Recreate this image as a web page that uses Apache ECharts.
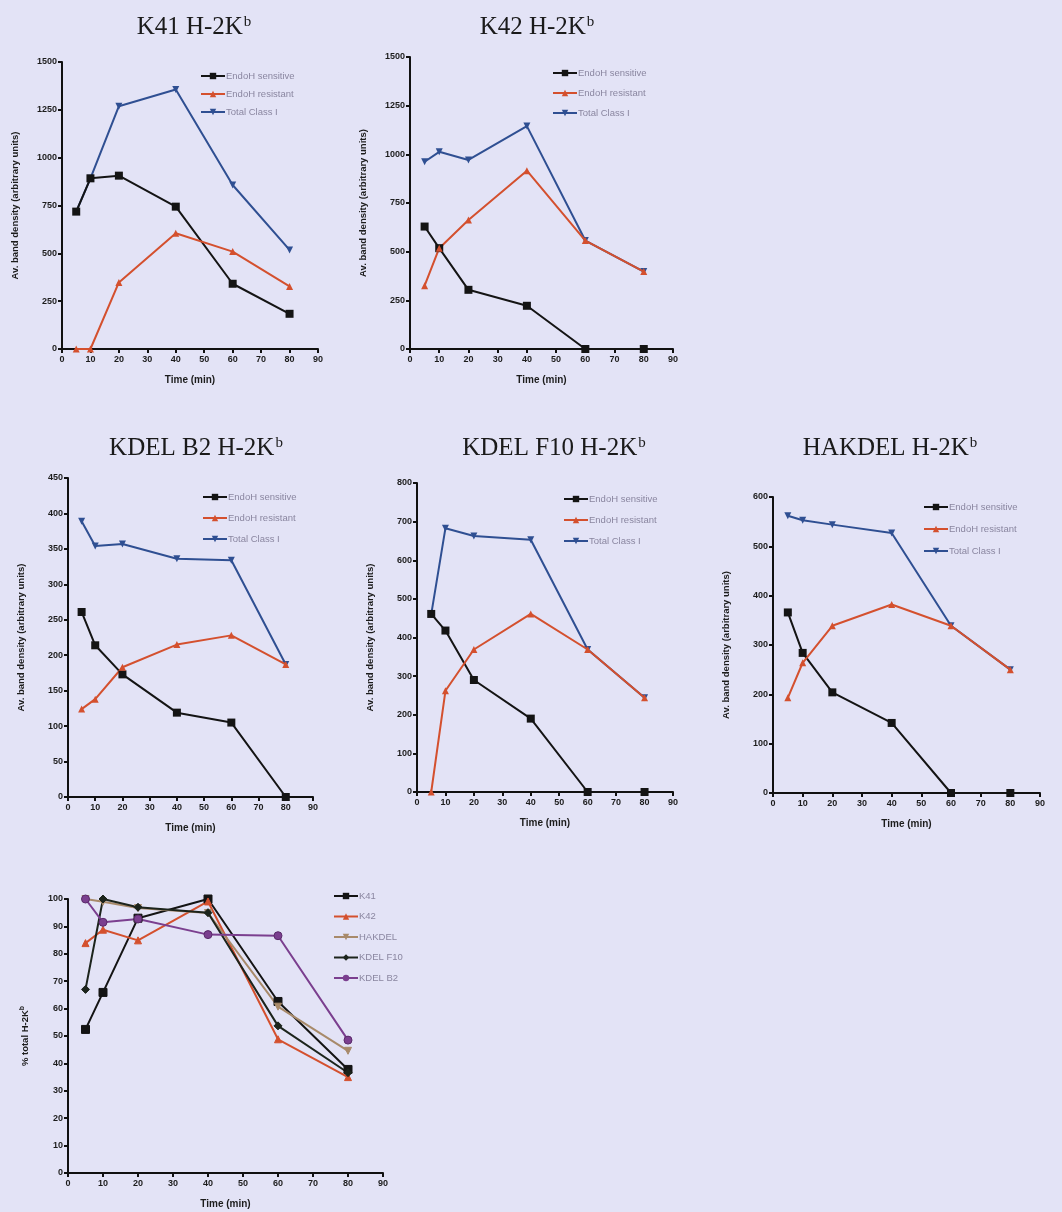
<!DOCTYPE html>
<html>
<head>
<meta charset="utf-8">
<script src="https://cdn.jsdelivr.net/npm/echarts@6/dist/echarts.min.js"></script>
<style>
  html, body { margin: 0; padding: 0; background: #e3e3f6; }
  #main { width: 1062px; height: 1212px; }
</style>
</head>
<body>
<div id="main"></div>
<script>
// time points (min), shared by every panel
var time = [5, 10, 20, 40, 60, 80];

// K41 H-2Kb
var k41Sensitive = [718, 892, 906, 744, 341, 184];
var k41Resistant = [0, 0, 348, 605, 509, 327];
var k41Total = [718, 892, 1269, 1356, 857, 518];

// K42 H-2Kb
var k42Sensitive = [629, 518, 304, 222, 0, 0];
var k42Resistant = [325, 518, 663, 916, 557, 398];
var k42Total = [962, 1013, 971, 1145, 557, 398];

// KDEL B2 H-2Kb
var b2Sensitive = [261, 214, 173, 119, 105, 0];
var b2Resistant = [124, 138, 183, 215, 228, 187];
var b2Total = [389, 354, 357, 336, 334, 187];

// KDEL F10 H-2Kb
var f10Sensitive = [461, 418, 290, 190, 0, 0];
var f10Resistant = [0, 262, 369, 461, 369, 244];
var f10Total = [460, 683, 663, 653, 369, 244];

// HAKDEL H-2Kb
var hakSensitive = [366, 284, 204, 142, 0, 0];
var hakResistant = [193, 264, 339, 382, 339, 250];
var hakTotal = [562, 553, 544, 527, 339, 250];

// % total H-2Kb
var pctK41 = [52.4, 65.9, 93, 100, 62.6, 37.8];
var pctK42 = [83.9, 88.8, 84.9, 99.1, 48.8, 35];
var pctHakdel = [100, 99, 96.7, 94.9, 60.7, 44.6];
var pctF10 = [67, 100, 97, 95, 53.7, 36.6];
var pctB2 = [100, 91.5, 92.7, 87, 86.6, 48.5];

var endoNames = ['EndoH sensitive', 'EndoH resistant', 'Total Class I'];
var pctNames = ['K41', 'K42', 'HAKDEL', 'KDEL F10', 'KDEL B2'];

var BLACK = '#141414', RED = '#d4502e', BLUE = '#2f4f92';

// one entry per panel: title spot, plot box [left, top, width, height], y range, legend [left, top, gap]
var panels = [
  { title: 'K41 H-2K', tx: 189, ty: 22, box: [62, 62, 256, 287], max: 1500, step: 250, lg: [200, 71, 8] , data: [k41Sensitive, k41Resistant, k41Total] },
  { title: 'K42 H-2K', tx: 532, ty: 22, box: [410, 57, 263, 292], max: 1500, step: 250, lg: [552, 68, 10], data: [k42Sensitive, k42Resistant, k42Total] },
  { title: 'KDEL B2 H-2K', tx: 191, ty: 443, box: [68, 478, 245, 319], max: 450, step: 50, lg: [202, 492, 11], data: [b2Sensitive, b2Resistant, b2Total] },
  { title: 'KDEL F10 H-2K', tx: 549, ty: 443, box: [417, 483, 256, 309], max: 800, step: 100, lg: [563, 494, 11], data: [f10Sensitive, f10Resistant, f10Total] },
  { title: 'HAKDEL H-2K', tx: 885, ty: 443, box: [773, 497, 267, 296], max: 600, step: 100, lg: [923, 502, 12], data: [hakSensitive, hakResistant, hakTotal] }
];

function pairs(vals) {
  return vals.map(function (v, i) { return [time[i], v]; });
}

var tickFont = { fontSize: 9, fontWeight: 'bold', color: '#1c1c1c', fontFamily: 'Liberation Sans, Arial' };
var axisLine = { show: true, lineStyle: { color: '#111', width: 2 } };
var axisTick = { show: true, inside: false, length: 4, lineStyle: { color: '#111', width: 2 } };

var option = {
  backgroundColor: '#e3e3f6',
  animation: false,
  title: [],
  grid: [],
  xAxis: [],
  yAxis: [],
  legend: [],
  series: []
};

function addAxes(box, max, step, yName, yGap) {
  var idx = option.grid.length;
  option.grid.push({ left: box[0], top: box[1], width: box[2], height: box[3], containLabel: false });
  option.xAxis.push({
    gridIndex: idx, type: 'value', min: 0, max: 90, interval: 10,
    name: 'Time (min)', nameLocation: 'middle', nameGap: 26,
    nameTextStyle: { fontSize: 10, fontWeight: 'bold', color: '#1c1c1c', fontFamily: 'Liberation Sans, Arial' },
    axisLine: axisLine, axisTick: axisTick, splitLine: { show: false },
    axisLabel: Object.assign({ margin: 6 }, tickFont)
  });
  option.yAxis.push({
    gridIndex: idx, type: 'value', min: 0, max: max, interval: step,
    name: yName, nameLocation: 'middle', nameGap: yGap, nameRotate: 90,
    nameTextStyle: { fontSize: 9.5, fontWeight: 'bold', color: '#1c1c1c', fontFamily: 'Liberation Sans, Arial',
      rich: { s: { fontSize: 7, fontWeight: 'bold', color: '#1c1c1c', padding: [0, 0, 6, 0] } } },
    axisLine: axisLine, axisTick: axisTick, splitLine: { show: false },
    axisLabel: Object.assign({ margin: 5, formatter: function (v) { return String(v); } }, tickFont)
  });
  return idx;
}

var endoStyle = [
  { color: BLACK, symbol: 'rect', size: 8 },
  { color: RED, symbol: 'triangle', size: 7 },
  { color: BLUE, symbol: 'path://M0,0 L10,0 L5,10 Z', size: 7 }
];

panels.forEach(function (p) {
  option.title.push({
    text: '{t|' + p.title + '}{s|b}',
    left: p.tx, top: p.ty, textAlign: 'center', textVerticalAlign: 'middle',
    textStyle: {
      fontWeight: 'normal',
      rich: {
        t: { fontFamily: 'Liberation Serif, Times New Roman, serif', fontSize: 25, fontWeight: 'normal', color: '#1a1a1a' },
        s: { fontFamily: 'Liberation Serif, Times New Roman, serif', fontSize: 15, fontWeight: 'normal', color: '#1a1a1a', padding: [0, 0, 10, 1] }
      }
    }
  });
  var idx = addAxes(p.box, p.max, p.step, 'Av. band density (arbitrary units)', 42);
  option.legend.push({
    orient: 'vertical', left: p.lg[0], top: p.lg[1], padding: 0, itemGap: p.lg[2],
    itemWidth: 24, itemHeight: 8, data: endoNames, selectedMode: false,
    textStyle: { fontSize: 9.5, color: '#8a86a0', fontFamily: 'Liberation Sans, Arial', padding: [0, 0, 0, -4] }
  });
  p.data.forEach(function (vals, k) {
    option.series.push({
      name: endoNames[k], type: 'line', xAxisIndex: idx, yAxisIndex: idx,
      data: pairs(vals), symbol: endoStyle[k].symbol, symbolSize: endoStyle[k].size,
      lineStyle: { color: endoStyle[k].color, width: 2 },
      itemStyle: { color: endoStyle[k].color },
      z: k === 2 ? 3 : 4
    });
  });
});

// bottom panel: % total H-2Kb
var pctIdx = addAxes([68, 899, 315, 274], 100, 10, '% total H-2K{s|b}', 36);
var pctStyle = [
  { color: '#141414', symbol: 'rect', size: 8 },
  { color: '#d4502e', symbol: 'triangle', size: 7 },
  { color: '#a88a6a', symbol: 'path://M0,0 L10,0 L5,10 Z', size: 7 },
  { color: '#1c241c', symbol: 'diamond', size: 8 },
  { color: '#7b3f8f', symbol: 'circle', size: 8 }
];
[pctK41, pctK42, pctHakdel, pctF10, pctB2].forEach(function (vals, k) {
  option.series.push({
    name: pctNames[k], type: 'line', xAxisIndex: pctIdx, yAxisIndex: pctIdx,
    data: pairs(vals), symbol: pctStyle[k].symbol, symbolSize: pctStyle[k].size,
    lineStyle: { color: pctStyle[k].color, width: 2 },
    itemStyle: { color: pctStyle[k].color, borderColor: k === 4 ? '#5a2a6a' : pctStyle[k].color }
  });
});
option.legend.push({
  orient: 'vertical', left: 333, top: 891, padding: 0, itemGap: 10.5,
  itemWidth: 24, itemHeight: 8, data: pctNames, selectedMode: false,
  textStyle: { fontSize: 9.5, color: '#8a86a0', fontFamily: 'Liberation Sans, Arial', padding: [0, 0, 0, -4] }
});

var myChart = echarts.init(document.getElementById('main'));
myChart.setOption(option);
</script>
</body>
</html>
